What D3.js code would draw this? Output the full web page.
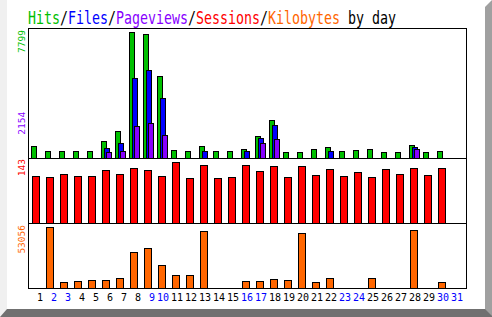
<!DOCTYPE html>
<html>
<head>
<meta charset="utf-8">
<script src="https://cdn.jsdelivr.net/npm/d3@7"></script>
<style>
  html, body { margin: 0; padding: 0; background: #fff; }
  svg { display: block; }
  text { font-family: "DejaVu Sans Mono", "Liberation Mono", monospace; }
</style>
</head>
<body>
<svg id="chart" width="492" height="317"></svg>
<script>
// ---------------------------------------------------------------------------
// Daily usage values, one entry per day of the month
// ---------------------------------------------------------------------------
const days = d3.range(1, 32);
const weekendDays = [2, 3, 9, 10, 16, 17, 23, 24, 30, 31];

const hits      = [724, 415, 415, 415, 415, 1033, 1653, 7799, 7656, 5057, 477, 415, 724, 415, 415,
                   539, 1343, 2333, 353, 353, 539, 662, 415, 477, 539, 353, 353, 786, 353, 415, 0];
const files     = [0, 0, 0, 0, 0, 600, 910, 4933, 5428, 3695, 0, 0, 415, 0, 0,
                   415, 1219, 2024, 0, 0, 0, 415, 0, 0, 0, 0, 0, 662, 0, 0, 0];
const pageviews = [0, 0, 0, 0, 0, 353, 415, 1962, 2154, 1405, 0, 0, 0, 0, 0,
                   0, 910, 1157, 0, 0, 0, 0, 0, 0, 0, 0, 0, 539, 0, 0, 0];
const sessions  = [110, 107, 114, 110, 110, 124, 114, 128, 124, 110, 143, 105, 135, 105, 107,
                   135, 121, 133, 107, 133, 112, 126, 110, 119, 107, 126, 114, 128, 112, 128, 0];
const kilobytes = [0, 53056, 4958, 5827, 6697, 6697, 8437, 31050, 34530, 19740, 11046, 11046, 49320, 0, 0,
                   5827, 5827, 7567, 6697, 47580, 4958, 8437, 0, 0, 8437, 0, 0, 50190, 0, 4958, 0];

const titleParts = [
  { t: "Hits",      c: "#00c000" },
  { t: "/",         c: "#000" },
  { t: "Files",     c: "#0000ff" },
  { t: "/",         c: "#000" },
  { t: "Pageviews", c: "#8800ff" },
  { t: "/",         c: "#000" },
  { t: "Sessions",  c: "#ff0000" },
  { t: "/",         c: "#000" },
  { t: "Kilobytes", c: "#ff6600" },
  { t: " by day",   c: "#000" },
];

const C = { hits: "#00c000", files: "#0000ff", pages: "#8800ff", sess: "#ff0000", kb: "#ff6600" };

// ---------------------------------------------------------------------------
// Layout
// ---------------------------------------------------------------------------
const svg = d3.select("#chart");
const X0 = 28, X1 = 466;               // frame left / right
const P1 = [28, 158], P2 = [158, 223], P3 = [223, 288];  // panel top / bottom

// left edge of each day's slot
const x = d3.scaleLinear().domain([1, 31]).range([31, 451]);

// y scales: tallest bar stops 4px below the panel top
const yTop = d3.scaleLinear().domain([0, d3.max(hits)]).range([P1[1], P1[0] + 4]);
const yMid = d3.scaleLinear().domain([0, d3.max(sessions)]).range([P2[1], P2[0] + 4]);
const yBot = d3.scaleLinear().domain([0, d3.max(kilobytes)]).range([P3[1], P3[0] + 4]);

// frame shading (left light strip, right and bottom shadow)
svg.append("rect").attr("x", 0).attr("y", 0).attr("width", 7).attr("height", 317).attr("fill", "#f0f0f0");
svg.append("polygon").attr("points", "485,7 492,0 492,317 485,317").attr("fill", "#a0a0a0");
svg.append("polygon").attr("points", "0,317 7,309 485,309 492,316 492,317").attr("fill", "#707070");

// title
const title = svg.append("text")
  .attr("transform", "translate(28,24) scale(1,1.3)")
  .attr("font-size", 13.3);
title.selectAll("tspan").data(titleParts).join("tspan")
  .attr("fill", d => d.c)
  .attr("xml:space", "preserve")
  .style("white-space", "pre")
  .text(d => d.t);

// bars with black outline; (offset, width) give the outer pixel box
function bars(vals, y, off, w, color) {
  svg.append("g").attr("shape-rendering", "crispEdges")
    .selectAll("rect")
    .data(days.filter((d, i) => vals[i] > 0))
    .join("rect")
    .attr("x", d => x(d) + off + 0.5)
    .attr("width", w - 1)
    .attr("y", d => Math.round(y(vals[d - 1])) + 0.5)
    .attr("height", d => y(0) - Math.round(y(vals[d - 1])))
    .attr("fill", color)
    .attr("stroke", "#000")
    .attr("stroke-width", 1);
}

bars(hits,      yTop, 0, 6, C.hits);
bars(files,     yTop, 3, 6, C.files);
bars(pageviews, yTop, 5, 6, C.pages);
bars(sessions,  yMid, 1, 8, C.sess);
bars(kilobytes, yBot, 1, 8, C.kb);

// frame and panel dividers
const frame = svg.append("g").attr("stroke", "#000").attr("fill", "none").attr("shape-rendering", "crispEdges");
frame.append("rect").attr("x", X0 + 0.5).attr("y", P1[0] + 0.5).attr("width", X1 - X0).attr("height", P3[1] - P1[0]);
[P2[0], P3[0]].forEach(yy => frame.append("line")
  .attr("x1", X0).attr("x2", X1 + 1).attr("y1", yy + 0.5).attr("y2", yy + 0.5));

// rotated max-value labels on the left
function maxLabel(txt, yPos, color, anchor) {
  svg.append("text")
    .attr("transform", `translate(25,${yPos}) rotate(-90)`)
    .attr("text-anchor", anchor)
    .attr("font-size", 9.5)
    .attr("fill", color)
    .text(txt);
}
maxLabel(d3.max(hits), 30, C.hits, "end");
maxLabel(d3.max(pageviews), yTop(d3.max(pageviews)), C.pages, "middle");
maxLabel(d3.max(sessions), 159, C.sess, "end");
maxLabel(d3.max(kilobytes), 225, C.kb, "end");

// day labels, right aligned in each slot
svg.append("g").selectAll("text").data(days).join("text")
  .attr("x", d => x(d) + 12)
  .attr("y", 301)
  .attr("text-anchor", "end")
  .attr("font-size", 10)
  .attr("fill", d => weekendDays.includes(d) ? "#0000ff" : "#000")
  .text(d => d);
</script>
</body>
</html>
